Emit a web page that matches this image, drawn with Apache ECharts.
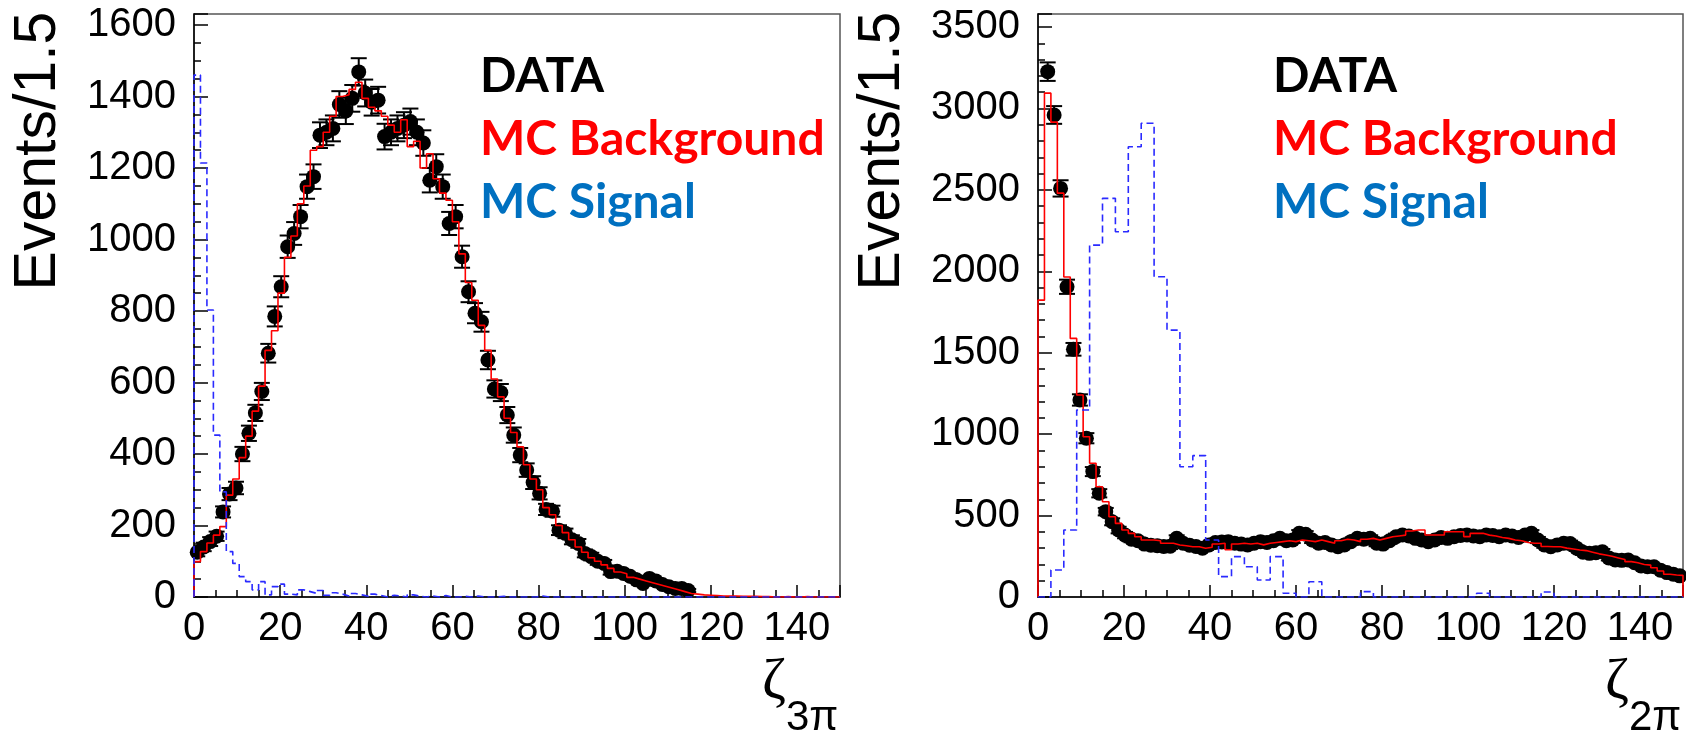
<!DOCTYPE html>
<html>
<head>
<meta charset="utf-8">
<script src="https://cdn.jsdelivr.net/npm/echarts@6/dist/echarts.min.js"></script>
<style>
  html, body { margin: 0; padding: 0; background: #ffffff; }
  #chart { width: 1686px; height: 730px; }
</style>
</head>
<body>
<div id="chart"></div>
<script>
// ---- binning ----
const binWidth = 1.5;          // data and MC background bins
const rightSignalBinWidth = 3; // coarser MC signal binning in the 2pi plot
const xMin = 0, xMax = 150;

// ---- zeta_3pi panel ----
const leftData = [
  125, 140, 155, 170, 238, 288, 305, 400, 458, 515,
  575, 682, 785, 868, 980, 1017, 1064, 1148, 1176, 1292,
  1300, 1311, 1378, 1360, 1395, 1469, 1410, 1384, 1390, 1288,
  1300, 1311, 1320, 1330, 1300, 1270, 1166, 1204, 1148, 1045,
  1064, 952, 854, 794, 770, 663, 582, 572, 509, 453,
  397, 355, 320, 290, 245, 240, 187, 178, 160, 150,
  122, 113, 100, 94, 71, 72, 66, 58, 48, 38,
  52, 45, 35, 29, 24, 24, 18, null, null, null,
  null, null, null, null, null, null, null, null, null, null,
  null, null, null, null, null, null, null, null, null, null
];
const leftBackground = [
  99, 127, 151, 173, 197, 285, 330, 390, 450, 520,
  590, 690, 745, 850, 950, 1010, 1100, 1150, 1250, 1260,
  1300, 1345, 1400, 1405, 1420, 1440, 1395, 1370, 1360, 1345,
  1320, 1300, 1335, 1260, 1275, 1200, 1240, 1170, 1130, 1110,
  1050, 960, 880, 830, 760, 690, 610, 560, 500, 460,
  420, 370, 330, 300, 250, 230, 200, 180, 160, 140,
  125, 110, 100, 90, 80, 70, 65, 55, 50, 45,
  40, 35, 30, 25, 20, 15, 10, 8, 6, 5,
  4, 3, 3, 3, 2, 2, 2, 1, 1, 0,
  0, 1, 0, 0, 1, 0, 0, 0, 0, 0
];
const leftSignal = [
  1460, 1214, 803, 453, 294, 127, 94, 57, 43, 20,
  43, 6, 29, 36, 8, 6, 20, 15, 10, 18,
  5, 12, 8, 3, 10, 6, 2, 8, 4, 0,
  5, 3, 0, 6, 2, 0, 3, 0, 4, 0,
  0, 2, 0, 3, 0, 0, 0, 2, 0, 0,
  0, 0, 0, 3, 0, 0, 0, 0, 0, 0,
  0, 0, 0, 0, 0, 0, 0, 0, 0, 0,
  0, 0, 0, 0, 0, 0, 0, 0, 0, 0,
  0, 0, 0, 0, 0, 0, 0, 0, 0, 0,
  0, 0, 0, 0, 0, 0, 0, 0, 0, 0
];

// ---- zeta_2pi panel ----
const rightData = [
  null, 3226, 2960, 2509, 1905, 1521, 1210, 975, 770, 637,
  524, 462, 411, 380, 355, 345, 325, 318, 315, 310,
  312, 360, 330, 318, 310, 299, 320, 335, 338, 340,
  330, 325, 319, 330, 340, 335, 345, 360, 345, 350,
  391, 385, 350, 330, 335, 320, 309, 320, 340, 360,
  355, 360, 330, 325, 345, 370, 381, 375, 360, 350,
  340, 350, 365, 360, 370, 378, 381, 375, 370, 381,
  378, 370, 381, 375, 365, 380, 391, 350, 320, 309,
  320, 330, 328, 300, 275, 268, 272, 278, 240, 227,
  225, 227, 210, 190, 186, 186, 165, 150, 140, 130
];
const rightBackground = [
  1823, 3094, 2916, 2480, 1965, 1588, 1240, 984, 821, 677,
  585, 493, 452, 411, 391, 370, 350, 350, 345, 330,
  330, 319, 315, 309, 309, 299, 305, 325, 330, 290,
  325, 330, 325, 330, 320, 330, 335, 340, 345, 340,
  350, 345, 340, 350, 340, 330, 345, 355, 350, 340,
  355, 360, 350, 360, 370, 375, 380, 405, 411, 411,
  381, 381, 381, 401, 401, 401, 371, 391, 391, 380,
  375, 365, 360, 350, 345, 335, 330, 330, 310, 309,
  309, 300, 295, 289, 285, 275, 265, 258, 250, 240,
  230, 217, 210, 200, 196, 180, 160, 140, 135, 133
];
const rightSignal = [
  0, 166, 411, 1148, 2161, 2448, 2243, 2765, 2909, 1967,
  1639, 800, 868, 350, 125, 248, 186, 104, 248, 23,
  0, 94, 0, 0, 0, 33, 0, 0, 0, 0,
  0, 0, 0, 0, 23, 0, 0, 0, 0, 31,
  0, 0, 0, 0, 0, 0, 0, 0, 0, 0
];

// ---- axes ----
const leftYMax = 1631, leftYStep = 200, leftYMinor = 50;
const rightYMax = 3580, rightYStep = 500, rightYMinor = 100;
const xStep = 20, xMinor = 5;
const yTitle = 'Events/1.5';
const legendLines = [
  { text: 'DATA', color: '#000000' },
  { text: 'MC Background', color: '#ff0000' },
  { text: 'MC Signal', color: '#0070c0' }
];
const panels = [
  { data: leftData, bkg: leftBackground, sig: leftSignal, sigWidth: binWidth,
    yMax: leftYMax, yStep: leftYStep, yMinor: leftYMinor, sub: '3π' },
  { data: rightData, bkg: rightBackground, sig: rightSignal, sigWidth: rightSignalBinWidth,
    yMax: rightYMax, yStep: rightYStep, yMinor: rightYMinor, sub: '2π' }
];

// Outline of a histogram: rises from zero at the first edge, steps across
// every bin and drops back to zero at the last edge.
function histogramOutline(values, width) {
  const pts = [[0, 0]];
  values.forEach((v, i) => {
    pts.push([i * width, v]);
    pts.push([(i + 1) * width, v]);
  });
  pts.push([values.length * width, 0]);
  return pts;
}

// Data points at bin centres with their Poisson (sqrt N) uncertainty.
function dataPoints(values, width) {
  const out = [];
  values.forEach((v, i) => {
    if (v != null) out.push([(i + 0.5) * width, v, Math.sqrt(v)]);
  });
  return out;
}

const tickFont = '"Liberation Sans", Arial, sans-serif';
const gridBoxes = [
  { left: 194, top: 14, width: 646, height: 583 },
  { left: 1038, top: 14, width: 645, height: 583 }
];

const grid = gridBoxes.map(b => Object.assign({
  show: true, borderColor: '#555555', borderWidth: 1.5, backgroundColor: 'transparent'
}, b));

const xAxis = [], yAxis = [], series = [];
panels.forEach((p, gi) => {
  // major x ticks with labels
  xAxis.push({
    type: 'value', gridIndex: gi, position: 'bottom', min: xMin, max: xMax, interval: xStep,
    axisLine: { show: true, onZero: false, lineStyle: { color: '#000', width: 1.5 } },
    axisTick: { show: true, inside: true, length: 12, lineStyle: { color: '#000', width: 1.5 } },
    axisLabel: { show: true, margin: 12, color: '#000', fontFamily: tickFont, fontSize: 40,
      formatter: v => (v % xStep === 0 ? String(v) : '') },
    splitLine: { show: false }
  });
  // minor x ticks
  xAxis.push({
    type: 'value', gridIndex: gi, position: 'bottom', min: xMin, max: xMax, interval: xMinor,
    axisLine: { show: false, onZero: false },
    axisTick: { show: true, inside: true, length: 7, lineStyle: { color: '#000', width: 1.5 } },
    axisLabel: { show: false }, splitLine: { show: false }
  });
  yAxis.push({
    type: 'value', gridIndex: gi, position: 'left', min: 0, max: p.yMax, interval: p.yStep,
    axisLine: { show: true, onZero: false, lineStyle: { color: '#000', width: 1.5 } },
    axisTick: { show: true, inside: true, length: 14, lineStyle: { color: '#000', width: 1.5 } },
    axisLabel: { show: true, margin: 18, color: '#000', fontFamily: tickFont, fontSize: 40,
      formatter: v => (v % p.yStep === 0 ? String(v) : '') },
    splitLine: { show: false }
  });
  yAxis.push({
    type: 'value', gridIndex: gi, position: 'left', min: 0, max: p.yMax, interval: p.yMinor,
    axisLine: { show: false, onZero: false },
    axisTick: { show: true, inside: true, length: 7, lineStyle: { color: '#000', width: 1.5 } },
    axisLabel: { show: false }, splitLine: { show: false }
  });

  const xi = gi * 2, yi = gi * 2;
  const pts = dataPoints(p.data, binWidth);

  // error bars
  series.push({
    type: 'custom', xAxisIndex: xi, yAxisIndex: yi, z: 2, clip: true, silent: true,
    data: pts,
    renderItem: (params, api) => {
      const x = api.value(0), v = api.value(1), e = api.value(2);
      const top = api.coord([x, v + e]);
      const bot = api.coord([x, v - e]);
      const half = 8;
      const style = { stroke: '#000', lineWidth: 2 };
      return {
        type: 'group',
        children: [
          { type: 'line', shape: { x1: top[0], y1: top[1], x2: bot[0], y2: bot[1] }, style },
          { type: 'line', shape: { x1: top[0] - half, y1: top[1], x2: top[0] + half, y2: top[1] }, style },
          { type: 'line', shape: { x1: bot[0] - half, y1: bot[1], x2: bot[0] + half, y2: bot[1] }, style }
        ]
      };
    }
  });
  // data markers
  series.push({
    type: 'scatter', xAxisIndex: xi, yAxisIndex: yi, z: 3, silent: true,
    symbol: 'circle', symbolSize: 15, itemStyle: { color: '#000', opacity: 1 },
    data: pts.map(d => [d[0], d[1]])
  });
  // MC background histogram
  series.push({
    type: 'line', xAxisIndex: xi, yAxisIndex: yi, z: 4, silent: true,
    showSymbol: false, symbol: 'none', clip: true,
    lineStyle: { color: '#ff0000', width: 1.6 },
    data: histogramOutline(p.bkg, binWidth)
  });
  // MC signal histogram
  series.push({
    type: 'line', xAxisIndex: xi, yAxisIndex: yi, z: 5, silent: true,
    showSymbol: false, symbol: 'none', clip: true,
    lineStyle: { color: '#2a2aff', width: 1.6, type: [7, 4] },
    data: histogramOutline(p.sig, p.sigWidth)
  });
});

// titles and legend text
const graphic = [];
gridBoxes.forEach((b, gi) => {
  const right = b.left + b.width;
  graphic.push({
    type: 'text', x: b.left - 155, y: 151, rotation: Math.PI / 2,
    style: { text: yTitle, font: '59px ' + tickFont, fill: '#000',
      textAlign: 'center', textVerticalAlign: 'middle' }
  });
  graphic.push({
    type: 'text', x: right - 66, y: 683,
    style: { text: 'ζ', font: '58px "Liberation Serif", serif', fill: '#000',
      textAlign: 'center', textVerticalAlign: 'middle' }
  });
  graphic.push({
    type: 'text', x: right - 54, y: 718,
    style: { text: panels[gi].sub, font: '42px ' + tickFont, fill: '#000',
      textAlign: 'left', textVerticalAlign: 'middle' }
  });
  legendLines.forEach((l, k) => {
    graphic.push({
      type: 'text', x: b.left + 286 - (gi === 1 ? 51 : 0), y: 77 + k * 63,
      style: { text: l.text, font: 'bold 48px Lato, sans-serif', fill: l.color,
        textAlign: 'left', textVerticalAlign: 'middle' }
    });
  });
});

const chart = echarts.init(document.getElementById('chart'), null, { renderer: 'canvas' });
chart.setOption({
  animation: false,
  backgroundColor: '#ffffff',
  grid, xAxis, yAxis, series, graphic
});
</script>
</body>
</html>
